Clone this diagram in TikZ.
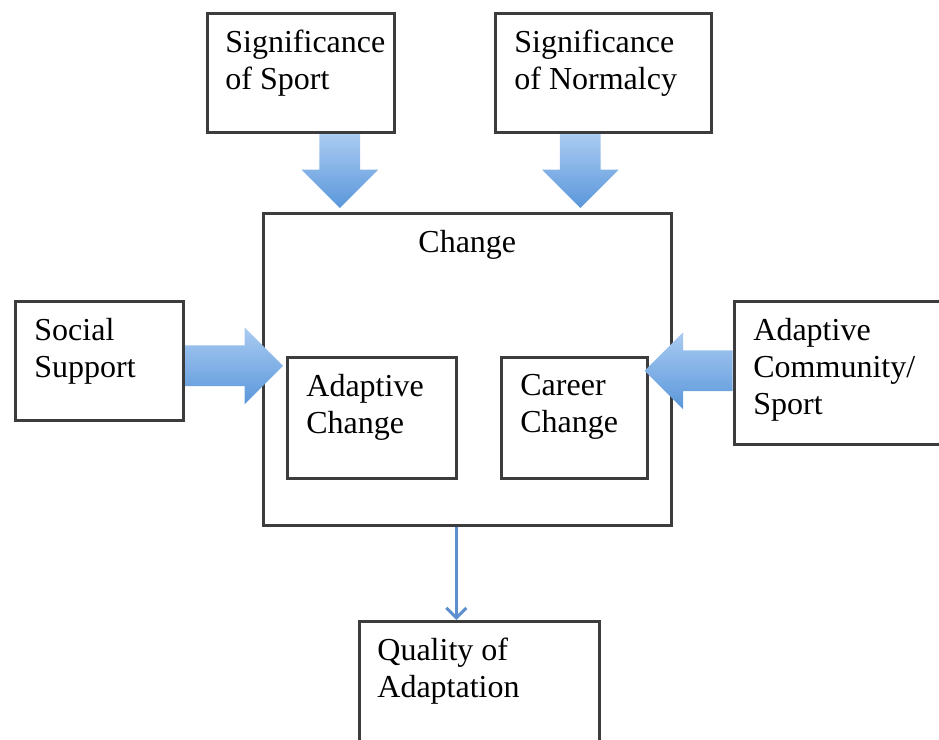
\documentclass[tikz,border=0pt]{standalone}
\usepackage{fontspec}
\setmainfont{Liberation Serif}
\usetikzlibrary{arrows.meta,positioning,calc,shapes.arrows}

\definecolor{boxgray}{HTML}{3C3C3C}
\definecolor{arrowlight}{HTML}{AACBF2}
\definecolor{arrowdark}{HTML}{5A97DA}
\definecolor{flowblue}{HTML}{5D8FCF}

\begin{document}
\begin{tikzpicture}[x=0.5pt, y=-0.5pt,
			box/.style={draw=boxgray, line width=1.3pt, anchor=north west, inner sep=0pt},
			txt/.style={font=\fontsize{16}{18.5}\selectfont, align=left, inner sep=0pt, anchor=north west},
			fatarrow/.style={single arrow, anchor=tail, inner sep=10pt, minimum width=38pt, single arrow head extend=9pt, top color=arrowlight, bottom color=arrowdark},
			flow/.style={draw=flowblue, line width=1.5pt, -{Straight Barb[length=5pt, width=10pt]}}
		]
		\useasboundingbox (0,0) rectangle (939,740);

		% Boxes
		\node[box, minimum width=93.5pt, minimum height=59.5pt] (sport) at (206,12) {};
		\node[box, minimum width=108pt, minimum height=59.5pt] (normalcy) at (494,12) {};
		\node[box, minimum width=204pt, minimum height=156pt] (change) at (262,212) {};
		\node[box, minimum width=84pt, minimum height=59.5pt] (social) at (14,300) {};
		\node[box, minimum width=84.5pt, minimum height=60.5pt] (adaptive) at (286,356) {};
		\node[box, minimum width=73pt, minimum height=60.5pt] (career) at (500,356) {};
		\node[box, minimum width=115pt, minimum height=71.5pt] (community) at (733,300) {};
		\node[box, minimum width=120pt, minimum height=75pt] (quality) at (358,620) {};

		% Texts
		\node[txt] (sporttxt) at ($(sport.north west)+(19,18)$) {Significance\\of Sport};
		\node[txt] (normtxt) at ($(normalcy.north west)+(20,18)$) {Significance\\of Normalcy};
		\node[txt, anchor=north] (changetxt) at ($(change.north)+(0,18)$) {Change};
		\node[txt] (socialtxt) at ($(social.north west)+(20,18)$) {Social\\Support};
		\node[txt] (adaptivetxt) at ($(adaptive.north west)+(20,18)$) {Adaptive\\Change};
		\node[txt] (careertxt) at ($(career.north west)+(20,18)$) {Career\\Change};
		\node[txt] (commtxt) at ($(community.north west)+(20,18)$) {Adaptive\\Community/\\Sport};
		\node[txt] (qualtxt) at ($(quality.north west)+(19,18)$) {Quality of\\Adaptation};

		% Block arrows
		\node[fatarrow, shape border rotate=270, minimum height=37pt] (sportarrow) at ($(sport.south)+(39,0)$) {};
		\node[fatarrow, shape border rotate=270, minimum height=37pt] (normarrow) at ($(normalcy.south)+(-23,0)$) {};
		\node[fatarrow, minimum height=49pt] (socialarrow) at ($(social.east)+(0,5)$) {};
		\node[fatarrow, shape border rotate=180, minimum height=44pt] (commarrow) at ($(community.west)+(0,-2)$) {};

		% Outcome
		\draw[flow] ($(change.south)+(-11,0)$) coordinate (q0) -- (q0 |- quality.north);
	\end{tikzpicture}
\end{document}
